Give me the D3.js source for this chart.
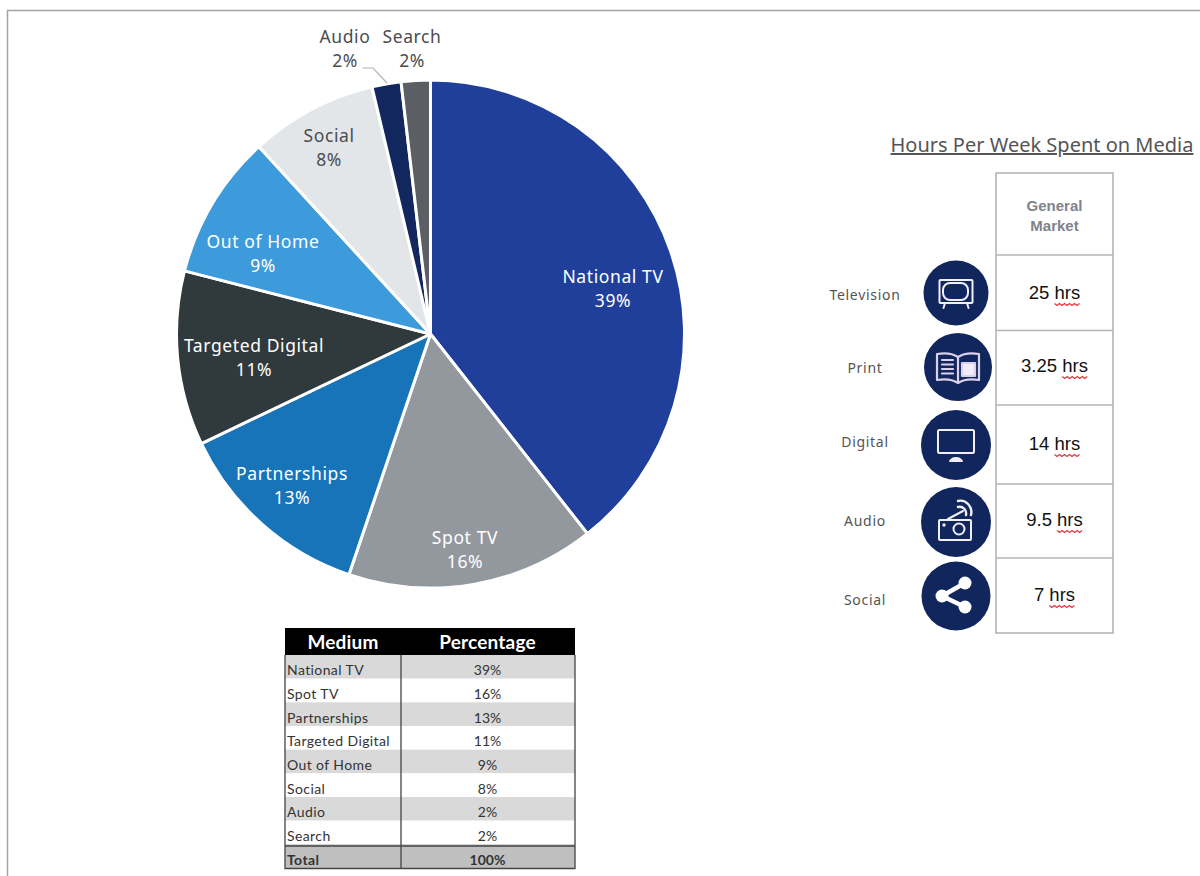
<!DOCTYPE html>
<html><head><meta charset="utf-8">
<script src="https://cdn.jsdelivr.net/npm/d3@7"></script>
<style>html,body{margin:0;padding:0;background:#fff}svg{display:block}</style></head>
<body><svg id="c" width="1200" height="876"></svg>
<script>
const categories=["National TV","Spot TV","Partnerships","Targeted Digital","Out of Home","Social","Audio","Search"];
const shares=[39.4,15.8,12.7,11.1,9.2,8.1,1.85,1.85];
const sliceColors=["#1f3f9b","#93989f","#1874b8","#30393c","#3d9bdc","#e3e6e9","#13275f","#5b5e63"];
const labelColors=["#fff","#fff","#fff","#fff","#fff","#4a4d50","#4a4d50","#4a4d50"];
const totalLabel="Total", totalValue="100%";
const mediaNames=["Television","Print","Digital","Audio","Social"];
const mediaHours=["25","3.25","14","9.5","7"];

const pct=v=>Math.round(v)+"%";
const svg=d3.select("#c");
const F="'Noto Sans',sans-serif", T="Lato,sans-serif", A="'Liberation Sans',Arial,sans-serif";

// frame
svg.append("path").attr("d","M7.5 876V10.5H1200").attr("fill","none").attr("stroke","#a3a3a3").attr("stroke-width",1.5);

// pie
const cx=430.5, cy=334, R=254;
const pie=d3.pie().sort(null).value(d=>d)(shares);
const arc=d3.arc().innerRadius(0).outerRadius(R);
const gp=svg.append("g").attr("transform",`translate(${cx},${cy})`);
gp.selectAll("path").data(pie).join("path").attr("d",arc)
  .attr("fill",(d,i)=>sliceColors[i]).attr("stroke","#fff").attr("stroke-width",3).attr("stroke-linejoin","round");

// label centres, relative to the pie centre
const labelOffset=[[182.5,-46],[34.5,215],[-138.5,151],[-176.5,23],[-167.5,-81],[-101.5,-187],[-85.5,-286],[-18.5,-286]];
const lg=svg.append("g").attr("transform",`translate(${cx},${cy})`);
categories.forEach((c,i)=>{
  const t=lg.append("text").attr("text-anchor","middle").attr("font-family",F).attr("font-size",17.5).attr("letter-spacing",0.6).attr("fill",labelColors[i]);
  t.append("tspan").attr("x",labelOffset[i][0]).attr("y",labelOffset[i][1]-5).text(c);
  t.append("tspan").attr("x",labelOffset[i][0]).attr("y",labelOffset[i][1]+19).text(pct(shares[i]));
});
svg.append("path").attr("d","M362.5 68H373L387 83").attr("fill","none").attr("stroke","#b4b4b4").attr("stroke-width",1.2);

// left table
const tRight=575;
const rows=categories.map((c,i)=>[c,pct(shares[i])]).concat([[totalLabel,totalValue]]);
const ty=d3.scaleBand().domain(d3.range(rows.length)).range([655,868]);
const gt=svg.append("g");
gt.append("rect").attr("x",285).attr("y",628).attr("width",tRight-285).attr("height",27).attr("fill","#000");
gt.append("text").attr("x",343).attr("y",649).attr("text-anchor","middle").attr("font-family",T).attr("font-weight",700).attr("font-size",19).attr("letter-spacing",0.2).attr("fill","#fff").text("Medium");
gt.append("text").attr("x",487.5).attr("y",649).attr("text-anchor","middle").attr("font-family",T).attr("font-weight",700).attr("font-size",19).attr("letter-spacing",0.2).attr("fill","#fff").text("Percentage");
rows.forEach((r,i)=>{
  const last=i===rows.length-1;
  gt.append("rect").attr("x",285).attr("y",ty(i)).attr("width",tRight-285).attr("height",ty.bandwidth())
    .attr("fill",last?"#bfbfbf":(i%2===0?"#d9d9d9":"#fff"));
  const y=ty(i)+ty.bandwidth()/2+8.5;
  gt.append("text").attr("x",287).attr("y",y).attr("font-family",T).attr("font-size",14).attr("letter-spacing",0.4).attr("font-weight",last?700:400).attr("fill","#333").text(r[0]);
  gt.append("text").attr("x",487.5).attr("y",y).attr("text-anchor","middle").attr("font-family",T).attr("font-size",14).attr("font-weight",last?700:400).attr("fill","#333").text(r[1]);
});
gt.append("path").attr("d",`M285 655V868.5H575V655M401 655V868.5M285 846H575`).attr("fill","none").attr("stroke","#444").attr("stroke-width",1.3);

// right title
svg.append("text").attr("x",1042).attr("y",152).attr("text-anchor","middle").attr("font-family",F).attr("font-size",20).attr("fill","#555").attr("text-decoration","underline").text("Hours Per Week Spent on Media");

// right table
const gridY=[173,255,330.5,405,484,558,633];
const gr=svg.append("g");
gr.append("rect").attr("x",996).attr("y",gridY[0]).attr("width",117).attr("height",gridY[6]-gridY[0]).attr("fill","#fff").attr("stroke","#b5b5b5").attr("stroke-width",1.6);
gridY.slice(1,6).forEach(y=>gr.append("line").attr("x1",996).attr("x2",1113).attr("y1",y).attr("y2",y).attr("stroke","#b5b5b5").attr("stroke-width",1.6));
[["General",211],["Market",231]].forEach(([s,y])=>gr.append("text").attr("x",1054.5).attr("y",y).attr("text-anchor","middle").attr("font-family",A).attr("font-weight",700).attr("font-size",15).attr("fill","#7f838c").text(s));

const circles=[[956,293,32.5],[958,367,34],[956,445,35],[956,522,35],[956,596,34.5]];
const nameY=[300,373,447,526,605];
const hrsY=[299,372,450,526,601];
mediaNames.forEach((n,i)=>{
  gr.append("text").attr("x",865).attr("y",nameY[i]).attr("text-anchor","middle").attr("font-family",F).attr("font-size",14).attr("letter-spacing",0.7).attr("fill","#555").text(n);
  const [x,y,r]=circles[i];
  gr.append("circle").attr("cx",x).attr("cy",y).attr("r",r).attr("fill","#12265e");
  const t=gr.append("text").attr("x",1054.5).attr("y",hrsY[i]).attr("text-anchor","middle").attr("font-family",A).attr("font-size",18.5).attr("fill","#111").text(mediaHours[i]+" hrs");
  const node=t.node(), len=mediaHours[i].length+1;
  const x0=node.getStartPositionOfChar(len).x, x1=node.getEndPositionOfChar(len+2).x;
  const pts=d3.range(0,Math.floor((x1-x0)/2.5)+1).map(k=>[x0+k*2.5,hrsY[i]+4.5+(k%2?2:0)]);
  gr.append("path").attr("d",d3.line()(pts)).attr("fill","none").attr("stroke","#e8323c").attr("stroke-width",1.2);
});

// icons
const ic=(i)=>gr.append("g").attr("transform",`translate(${circles[i][0]},${circles[i][1]})`).attr("fill","none").attr("stroke","#f0eef6").attr("stroke-width",2).attr("stroke-linejoin","round").attr("stroke-linecap","round");
let g=ic(0);
g.append("rect").attr("x",-16.5).attr("y",-13).attr("width",33).attr("height",23).attr("rx",1);
g.append("rect").attr("x",-13).attr("y",-10).attr("width",25).attr("height",17).attr("rx",7);
g.append("path").attr("d","M-11 10L-12.500 15M11 10L12.500 15");
g=ic(1);
g.attr("stroke","#d9d0ea").attr("stroke-width",2.2);
g.append("path").attr("d","M0 -10C-6 -14 -15 -14 -21 -13V13C-15 12 -6 12 0 16C6 12 15 12 21 13V-13C15 -14 6 -14 0 -10V16");
g.append("path").attr("d","M-16 -7H-5M-16 -2.500H-5M-16 2H-5M-16 6.500H-5");
g.append("rect").attr("x",4).attr("y",-4).attr("width",13).attr("height",13).attr("fill","#f0ecf6");
g=ic(2);
g.attr("stroke-width",2);
g.append("rect").attr("x",-18).attr("y",-15).attr("width",36).attr("height",23).attr("rx",1.5);
g.append("path").attr("d","M-6 16C-3 12 3 12 6 16Z").attr("fill","#f0eef6");
g=ic(3);
g.append("rect").attr("x",-17).attr("y",-2).attr("width",32).attr("height",20).attr("rx",1);
g.append("circle").attr("cx",3).attr("cy",7).attr("r",5.500);
g.append("path").attr("d","M-8 -3L7 -11");
g.append("path").attr("d","M2 -15C7 -16 11 -12 10 -7M2 -21C10 -23 17 -15 15 -7").attr("stroke-width",2.400);
g.append("circle").attr("cx",-12).attr("cy",3).attr("r",.7);
g=ic(4);
g.attr("stroke","#fff").attr("stroke-width",4.500);
g.append("path").attr("d","M9 -13L-14 0L9 11");
[[9,-13,6.500],[-14,0,6.500],[9,11,6.500]].forEach(d=>g.append("circle").attr("cx",d[0]).attr("cy",d[1]).attr("r",d[2]).attr("fill","#fff").attr("stroke","none"));
</script></body></html>
